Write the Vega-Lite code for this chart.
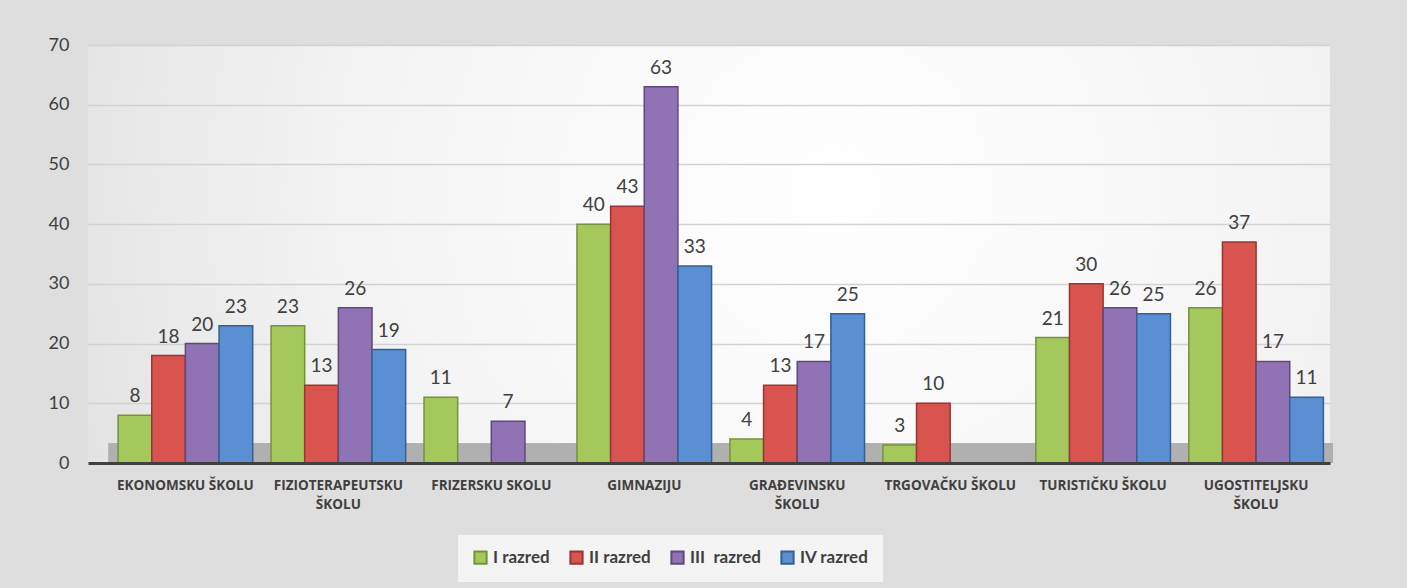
{
  "$schema": "https://vega.github.io/schema/vega-lite/v6.json",
  "autosize": "none",
  "width": 1242,
  "height": 418,
  "padding": {"left": 88, "top": 45, "right": 77, "bottom": 125},
  "background": "#dedede",
  "config": {
    "view": {
      "stroke": null,
      "fill": {"gradient": "radial", "x1": 0.6, "y1": 0.45, "r1": 0, "x2": 0.6, "y2": 0.45, "r2": 0.8,
        "stops": [{"offset": 0, "color": "#ffffff"}, {"offset": 0.5, "color": "#f3f3f3"}, {"offset": 1, "color": "#d8d8d8"}]}
    },
    "font": "Lato"
  },
  "data": {
    "values": [
      {"skola": "EKONOMSKU ŠKOLU", "razred": "I razred", "broj": 8},
      {"skola": "EKONOMSKU ŠKOLU", "razred": "II razred", "broj": 18},
      {"skola": "EKONOMSKU ŠKOLU", "razred": "III\u00a0 razred", "broj": 20},
      {"skola": "EKONOMSKU ŠKOLU", "razred": "IV razred", "broj": 23},
      {"skola": "FIZIOTERAPEUTSKU ŠKOLU", "razred": "I razred", "broj": 23},
      {"skola": "FIZIOTERAPEUTSKU ŠKOLU", "razred": "II razred", "broj": 13},
      {"skola": "FIZIOTERAPEUTSKU ŠKOLU", "razred": "III\u00a0 razred", "broj": 26},
      {"skola": "FIZIOTERAPEUTSKU ŠKOLU", "razred": "IV razred", "broj": 19},
      {"skola": "FRIZERSKU SKOLU", "razred": "I razred", "broj": 11},
      {"skola": "FRIZERSKU SKOLU", "razred": "III\u00a0 razred", "broj": 7},
      {"skola": "GIMNAZIJU", "razred": "I razred", "broj": 40},
      {"skola": "GIMNAZIJU", "razred": "II razred", "broj": 43},
      {"skola": "GIMNAZIJU", "razred": "III\u00a0 razred", "broj": 63},
      {"skola": "GIMNAZIJU", "razred": "IV razred", "broj": 33},
      {"skola": "GRAĐEVINSKU ŠKOLU", "razred": "I razred", "broj": 4},
      {"skola": "GRAĐEVINSKU ŠKOLU", "razred": "II razred", "broj": 13},
      {"skola": "GRAĐEVINSKU ŠKOLU", "razred": "III\u00a0 razred", "broj": 17},
      {"skola": "GRAĐEVINSKU ŠKOLU", "razred": "IV razred", "broj": 25},
      {"skola": "TRGOVAČKU ŠKOLU", "razred": "I razred", "broj": 3},
      {"skola": "TRGOVAČKU ŠKOLU", "razred": "II razred", "broj": 10},
      {"skola": "TURISTIČKU ŠKOLU", "razred": "I razred", "broj": 21},
      {"skola": "TURISTIČKU ŠKOLU", "razred": "II razred", "broj": 30},
      {"skola": "TURISTIČKU ŠKOLU", "razred": "III\u00a0 razred", "broj": 26},
      {"skola": "TURISTIČKU ŠKOLU", "razred": "IV razred", "broj": 25},
      {"skola": "UGOSTITELJSKU ŠKOLU", "razred": "I razred", "broj": 26},
      {"skola": "UGOSTITELJSKU ŠKOLU", "razred": "II razred", "broj": 37},
      {"skola": "UGOSTITELJSKU ŠKOLU", "razred": "III\u00a0 razred", "broj": 17},
      {"skola": "UGOSTITELJSKU ŠKOLU", "razred": "IV razred", "broj": 11}
    ]
  },
  "encoding": {
    "x": {
      "field": "skola", "type": "nominal", "sort": null,
      "scale": {"paddingInner": 0.12, "paddingOuter": 0.12, "align": 0.82},
      "axis": {
        "title": null, "labelAngle": 0, "labelFontSize": 13.5, "labelFontWeight": "bold",
        "labelColor": "#404040", "labelFont": "Open Sans", "domainColor": "#404040", "domainWidth": 3,
        "ticks": false, "labelPadding": 15, "labelLineHeight": 19, "zindex": 1, "labelDx": -10,
        "labelExpr": "length(datum.label) > 16 ? split(datum.label, ' ') : datum.label"
      }
    },
    "y": {
      "field": "broj", "type": "quantitative",
      "scale": {"domain": [0, 70]},
      "axis": {
        "title": null, "values": [0, 10, 20, 30, 40, 50, 60, 70], "labelFontSize": 18,
        "labelColor": "#404040", "domain": false, "ticks": false, "labelPadding": 19,
        "gridColor": "#d2d2d2", "gridWidth": 1.5
      }
    }
  },
  "layer": [
    {
      "mark": {"type": "bar", "width": {"band": 1.14}, "color": "#b0b0b0"},
      "encoding": {
        "y": {"datum": 0},
        "y2": {"datum": 3.3}
      }
    },
    {
      "mark": {"type": "bar", "strokeWidth": 1.5},
      "encoding": {
        "xOffset": {"field": "razred", "type": "nominal", "sort": null, "scale": {"paddingInner": 0}},
        "color": {
          "field": "razred", "type": "nominal", "sort": null,
          "scale": {"domain": ["I razred", "II razred", "III\u00a0 razred", "IV razred"], "range": ["#a4c85c", "#d9534f", "#9073b5", "#5b8fd4"]},
          "legend": {
            "orient": "none", "legendX": 370, "legendY": 490, "direction": "horizontal", "title": null, "symbolType": "square",
            "symbolSize": 150, "symbolStrokeWidth": 2, "labelFontSize": 17, "labelFontWeight": "bold",
            "labelColor": "#404040", "labelFont": "Lato", "columnPadding": 16, "fillColor": "#f4f4f4",
            "padding": 14, "symbolOpacity": 1, "labelOffset": 4
          }
        },
        "stroke": {
          "field": "razred", "type": "nominal", "sort": null,
          "scale": {"domain": ["I razred", "II razred", "III\u00a0 razred", "IV razred"], "range": ["#76933c", "#953735", "#5f497a", "#365f91"]}
        }
      }
    },
    {
      "mark": {"type": "text", "dy": -19, "fontSize": 19, "color": "#404040"},
      "encoding": {
        "xOffset": {"field": "razred", "type": "nominal", "sort": null, "scale": {"paddingInner": 0}},
        "text": {"field": "broj", "type": "quantitative"}
      }
    }
  ]
}
